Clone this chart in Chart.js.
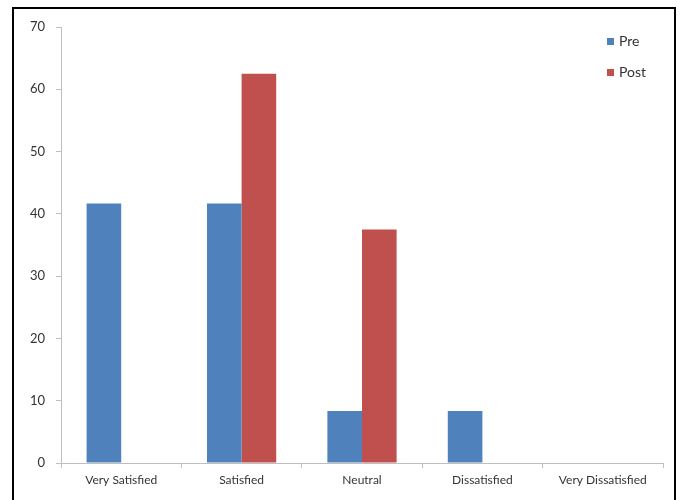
<!DOCTYPE html>
<html>
<head>
<meta charset="utf-8">
<script src="https://cdn.jsdelivr.net/npm/chart.js@4/dist/chart.umd.min.js"></script>
<style>
  html, body { margin: 0; padding: 0; background: #fff; }
  #wrap { position: relative; width: 683px; height: 500px; overflow: hidden; }
  #frame { position: absolute; left: 12px; top: 7px; width: 664px; height: 520px; border: 2.5px solid #000; box-sizing: border-box; }
  #c { position: absolute; left: 0; top: 0; }
</style>
</head>
<body>
<div id="wrap">
  <div id="frame"></div>
  <canvas id="c" width="683" height="500"></canvas>
</div>
<script>
const categories = ['Very Satisfied', 'Satisfied', 'Neutral', 'Dissatisfied', 'Very Dissatisfied'];
const preValues = [41.67, 41.67, 8.33, 8.33, 0];
const postValues = [0, 62.5, 37.5, 0, 0];
const yTicks = [0, 10, 20, 30, 40, 50, 60, 70];

const FONT = 'Lato, "Open Sans", sans-serif';
const TEXT = '#333333';
const AXIS = '#BFBFBF';

// Vertical legend drawn inside the plot area, top right
const sideLegend = {
  id: 'sideLegend',
  afterDraw(chart) {
    const ctx = chart.ctx;
    ctx.save();
    ctx.font = '14px ' + FONT;
    ctx.textBaseline = 'middle';
    ctx.textAlign = 'left';
    chart.data.datasets.forEach((ds, i) => {
      const y = 41.5 + i * 31;
      ctx.fillStyle = ds.backgroundColor;
      ctx.fillRect(607, y - 3.5, 7, 7);
      ctx.fillStyle = TEXT;
      ctx.fillText(ds.label, 619, y);
    });
    ctx.restore();
  }
};

new Chart(document.getElementById('c'), {
  type: 'bar',
  data: {
    labels: categories,
    datasets: [
      { label: 'Pre', data: preValues, backgroundColor: '#4F81BD' },
      { label: 'Post', data: postValues, backgroundColor: '#C0504D' }
    ]
  },
  options: {
    responsive: false,
    animation: false,
    devicePixelRatio: 1,
    layout: { padding: { left: 0, top: 27, right: 20, bottom: 0 } },
    datasets: { bar: { categoryPercentage: 0.575, barPercentage: 1 } },
    plugins: { legend: { display: false }, tooltip: { enabled: false } },
    scales: {
      x: {
        afterFit(scale) { scale.height = 37; },
        grid: { display: true, drawOnChartArea: false, offset: true, tickLength: 5, color: AXIS },
        border: { display: true, color: AXIS, width: 1 },
        ticks: { color: TEXT, font: { family: FONT, size: 12 }, padding: 5, maxRotation: 0, autoSkip: false }
      },
      y: {
        min: 0,
        max: 70,
        afterFit(scale) { scale.width = 61; },
        afterBuildTicks(scale) { scale.ticks = yTicks.map(v => ({ value: v })); },
        grid: { display: true, drawOnChartArea: false, tickLength: 5, color: AXIS },
        border: { display: true, color: AXIS, width: 1 },
        ticks: { color: TEXT, font: { family: FONT, size: 13 }, padding: 11 }
      }
    }
  },
  plugins: [sideLegend]
});
</script>
</body>
</html>
